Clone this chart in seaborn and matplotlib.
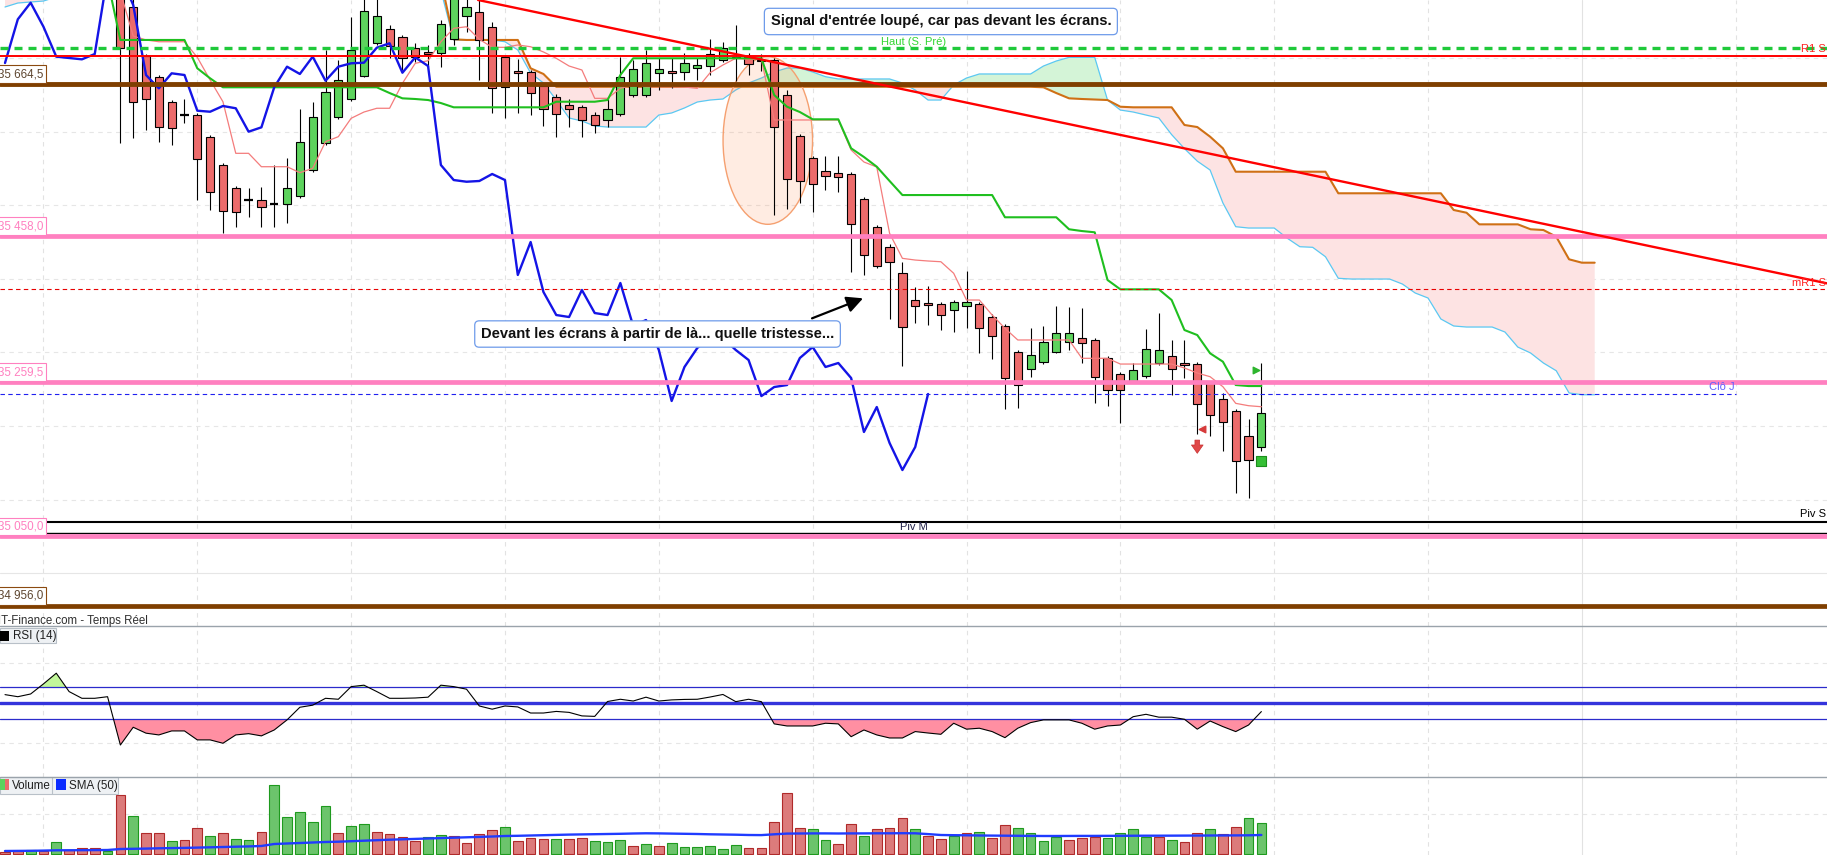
import numpy as np
import pandas as pd
import seaborn as sns
import matplotlib.pyplot as plt
from matplotlib import transforms, font_manager
from matplotlib.patches import Ellipse, Rectangle
from matplotlib.lines import Line2D

# ---------------- data ----------------
# candles, one per bar index 0..98 (bars 0-8 sit above the visible window)
opens = [35812, 35805, 35810, 35824, 35835, 35846, 35826, 35815, 35818, 35795.0,
         35769.0, 35702.8, 35673.9, 35639.9, 35622.2, 35622.2, 35592.4, 35554.3, 35523.1, 35506.8,
         35506.8, 35501.7, 35501.7, 35512.2, 35548.3, 35584.2, 35619.5, 35644.0, 35676.0, 35720.1,
         35739.1, 35728.2, 35713.3, 35707.8, 35706.5, 35725.5, 35757.2, 35763.0, 35742.6, 35701.0,
         35682.4, 35680.7, 35662.1, 35647.5, 35635.8, 35633.1, 35623.1, 35615.9, 35624.0, 35649.4,
         35649.4, 35679.3, 35682.4, 35681.1, 35686.1, 35688.8, 35697.4, 35699.7, 35701.0, 35697.4,
         35697.4, 35650.2, 35593.7, 35563.8, 35546.2, 35543.4, 35542.5, 35508.1, 35470.1, 35443.7,
         35407.6, 35370.9, 35367.2, 35365.4, 35357.3, 35362.7, 35365.4, 35348.6, 35335.6, 35300.2,
         35277.5, 35287.1, 35300.2, 35313.8, 35319.3, 35316.5, 35292.1, 35270.3, 35261.6, 35267.6,
         35285.3, 35294.8, 35285.3, 35283.9, 35258.1, 35236.4, 35220.1, 35186.1, 35171.2]
highs = [35826, 35818, 35832, 35840, 35852, 35850, 35832, 35824, 35825, 35806.0,
         35781.0, 35705.5, 35677.0, 35643.0, 35644.0, 35625.4, 35595.5, 35557.4, 35526.2, 35523.5,
         35525.2, 35554.7, 35563.8, 35630.4, 35639.9, 35711.0, 35697.4, 35756.2, 35785.7, 35785.7,
         35744.9, 35731.3, 35720.5, 35717.8, 35751.7, 35799.3, 35792.5, 35785.7, 35749.0, 35704.2,
         35698.7, 35683.8, 35664.8, 35651.2, 35644.0, 35636.2, 35626.7, 35644.0, 35701.9, 35697.4,
         35711.0, 35700.1, 35700.1, 35706.9, 35700.1, 35726.3, 35721.8, 35744.9, 35706.5, 35705.5,
         35700.1, 35656.6, 35596.8, 35567.0, 35567.0, 35567.0, 35545.2, 35511.2, 35473.2, 35447.4,
         35422.9, 35389.4, 35390.3, 35368.6, 35371.3, 35410.7, 35368.6, 35352.3, 35338.7, 35303.4,
         35332.8, 35336.0, 35363.1, 35361.4, 35360.0, 35319.7, 35295.2, 35273.5, 35285.7, 35331.5,
         35354.0, 35317.0, 35317.0, 35287.0, 35261.2, 35244.5, 35223.2, 35210.0, 35285.3]
lows = [35798, 35795, 35804, 35815, 35828, 35822, 35810, 35805, 35804, 35585.0,
        35591.0, 35602.3, 35586.4, 35581.9, 35611.4, 35507.2, 35493.6, 35462.7, 35470.9, 35484.5,
        35470.9, 35470.9, 35475.5, 35509.9, 35545.2, 35581.9, 35617.2, 35641.7, 35674.3, 35717.8,
        35699.7, 35683.8, 35694.7, 35688.3, 35688.3, 35717.8, 35735.8, 35670.2, 35625.0, 35618.2,
        35625.4, 35622.6, 35607.7, 35593.2, 35606.8, 35593.2, 35598.6, 35606.8, 35621.3, 35647.1,
        35647.1, 35656.6, 35659.3, 35670.2, 35670.2, 35677.0, 35694.7, 35668.8, 35677.0, 35682.4,
        35486.8, 35494.5, 35502.7, 35491.3, 35520.8, 35518.4, 35409.7, 35405.3, 35414.8, 35345.1,
        35281.6, 35339.6, 35337.3, 35330.5, 35328.2, 35332.8, 35298.9, 35290.7, 35222.8, 35224.1,
        35267.1, 35284.3, 35298.9, 35303.4, 35285.3, 35231.8, 35227.7, 35204.6, 35258.5, 35265.3,
        35283.0, 35241.8, 35264.9, 35188.8, 35187.2, 35166.5, 35108.7, 35101.9, 35166.5]
closes = [35805, 35810, 35824, 35835, 35846, 35826, 35815, 35818, 35808, 35713.3,
          35639.9, 35644.0, 35605.9, 35604.6, 35622.2, 35562.5, 35517.6, 35491.8, 35490.4, 35506.8,
          35497.3, 35501.7, 35523.1, 35585.6, 35619.5, 35653.5, 35669.8, 35710.6, 35763.5, 35756.8,
          35716.8, 35699.7, 35701.9, 35705.1, 35745.9, 35785.7, 35769.8, 35724.6, 35658.9, 35661.1,
          35679.7, 35652.1, 35630.4, 35624.0, 35630.4, 35615.9, 35608.7, 35631.2, 35674.7, 35684.7,
          35692.9, 35684.7, 35679.7, 35692.9, 35690.2, 35705.5, 35713.3, 35701.0, 35691.5, 35695.6,
          35605.9, 35535.3, 35533.4, 35528.9, 35540.2, 35538.8, 35474.6, 35432.4, 35417.5, 35422.9,
          35334.2, 35362.7, 35364.5, 35350.5, 35368.2, 35368.2, 35332.8, 35322.4, 35264.9, 35255.4,
          35296.2, 35313.8, 35326.0, 35326.0, 35312.5, 35266.3, 35248.6, 35248.6, 35275.8, 35304.3,
          35303.0, 35277.1, 35282.6, 35229.6, 35214.6, 35205.1, 35152.1, 35154.3, 35217.4]

# volume panel (contracts), colour flag as shown (1 = green bar)
volume = [150, 250, 350, 300, 1120, 350, 520, 520, 250, 5820,
          3720, 2050, 2050, 1250, 1320, 2520, 1720, 2050, 1420, 1320,
          2120, 6820, 3620, 4120, 3120, 4720, 2020, 2720, 2920, 2120,
          1920, 1620, 1250, 1620, 1820, 1720, 1020, 1920, 2320, 2620,
          1220, 1520, 1420, 1420, 1420, 1520, 1220, 1120, 1320, 800,
          920, 720, 1020, 650, 650, 720, 450, 850, 520, 520,
          3120, 6020, 2520, 2420, 1350, 920, 2920, 1780, 2420, 2520,
          3520, 2420, 1750, 1420, 1750, 2020, 2120, 1520, 2820, 2520,
          2020, 1250, 1620, 1350, 1550, 1620, 1550, 2020, 2420, 1680,
          1680, 1350, 1120, 2020, 2420, 1950, 2620, 3520, 3020]
vol_up = [0, 0, 1, 0, 1, 0, 0, 0, 1, 0,
          1, 0, 0, 1, 0, 0, 1, 0, 1, 1,
          0, 1, 1, 1, 1, 1, 0, 1, 1, 0,
          0, 0, 0, 1, 1, 0, 0, 0, 0, 1,
          0, 0, 0, 1, 0, 0, 1, 1, 1, 0,
          1, 0, 1, 1, 1, 1, 1, 1, 0, 0,
          0, 0, 0, 1, 1, 0, 0, 1, 0, 0,
          0, 1, 0, 0, 1, 0, 1, 0, 0, 1,
          1, 1, 1, 0, 0, 0, 1, 1, 1, 1,
          0, 1, 0, 0, 1, 0, 0, 1, 1]
vol_sma = [250, 260, 270, 290, 320, 325, 330, 340, 350, 450,
           470, 490, 520, 540, 560, 590, 620, 650, 680, 710,
           750, 950, 1000, 1050, 1100, 1150, 1180, 1230, 1280, 1330,
           1380, 1420, 1460, 1500, 1540, 1580, 1620, 1660, 1700, 1750,
           1770, 1800, 1830, 1860, 1890, 1910, 1930, 1950, 1970, 2000,
           2020, 2010, 1990, 1970, 1950, 1920, 1900, 1880, 1850, 1840,
           1920, 1990, 2000, 2010, 2010, 2000, 2010, 2010, 2020, 2020,
           2030, 2020, 1940, 1850, 1830, 1820, 1800, 1790, 1780, 1770,
           1760, 1750, 1750, 1755, 1760, 1760, 1765, 1770, 1775, 1780,
           1780, 1785, 1790, 1795, 1800, 1805, 1810, 1820, 1850]

rsi = [55.4, 54.1, 55.8, 62.1, 68.8, 57.3, 53.1, 53.1, 54.1, 23.9,
       35.0, 31.3, 30.2, 32.7, 32.7, 27.1, 27.1, 25.0, 30.2, 31.0,
       29.6, 33.3, 39.6, 47.5, 48.8, 53.1, 52.5, 60.4, 61.3, 57.3,
       53.1, 53.1, 53.3, 53.8, 61.3, 60.4, 58.8, 48.3, 46.3, 48.3,
       47.7, 43.9, 43.9, 44.9, 44.3, 42.1, 41.8, 51.1, 52.5, 51.4,
       53.8, 51.4, 52.1, 52.4, 52.5, 53.9, 55.5, 51.0, 52.5, 51.0,
       37.1, 35.8, 35.8, 35.8, 37.5, 37.1, 29.1, 33.3, 30.2, 28.3,
       28.3, 32.3, 31.4, 30.6, 37.5, 33.8, 34.4, 32.3, 28.5, 34.4,
       37.9, 39.6, 39.6, 39.6, 37.5, 33.8, 35.8, 36.4, 41.6, 43.1,
       41.3, 41.3, 40.0, 33.8, 38.9, 35.4, 32.3, 36.4, 44.8]

# ichimoku
tenkan_start = 9
tenkan = [35790.0, 35730.0, 35724.6, 35722.2, 35722.2, 35722.2, 35701.0, 35670.2, 35640.7, 35570.6,
          35570.6, 35552.4, 35552.4, 35552.4, 35544.3, 35550.2, 35586.4, 35593.2, 35618.2, 35626.7,
          35631.8, 35631.8, 35665.7, 35692.9, 35696.4, 35722.2, 35740.4, 35742.6, 35725.5, 35714.6,
          35714.6, 35717.8, 35715.4, 35708.3, 35699.7, 35689.2, 35683.8, 35645.3, 35645.3, 35658.9,
          35663.4, 35661.1, 35661.1, 35661.1, 35660.7, 35658.9, 35680.1, 35690.6, 35699.7, 35698.3,
          35698.3, 35615.9, 35615.9, 35615.9, 35615.9, 35615.9, 35615.9, 35575.1, 35558.8, 35552.0,
          35461.9, 35427.9, 35425.6, 35424.3, 35423.3, 35407.6, 35371.3, 35371.3, 35350.9, 35332.8,
          35317.0, 35317.0, 35317.0, 35317.0, 35317.0, 35292.1, 35292.1, 35292.1, 35284.3, 35284.3,
          35284.3, 35284.3, 35284.3, 35278.9, 35272.1, 35267.1, 35253.5, 35230.9, 35227.7, 35226.3]
kijun_start = 8
kijun = [35806.0, 35724.6, 35724.6, 35724.6, 35724.6, 35724.6, 35724.6, 35686.1, 35672.5, 35660.3,
         35660.3, 35660.3, 35660.3, 35660.3, 35660.3, 35660.3, 35660.3, 35660.3, 35660.3, 35660.3,
         35660.3, 35660.3, 35652.5, 35645.3, 35644.4, 35643.0, 35638.9, 35633.1, 35633.1, 35633.1,
         35633.1, 35633.1, 35633.1, 35633.1, 35633.1, 35640.7, 35640.7, 35640.7, 35640.7, 35643.0,
         35677.0, 35699.7, 35699.7, 35699.7, 35699.7, 35699.7, 35699.7, 35699.7, 35699.7, 35699.7,
         35699.7, 35699.7, 35649.8, 35633.9, 35626.7, 35616.8, 35616.8, 35616.8, 35577.4, 35565.6,
         35552.4, 35533.0, 35513.9, 35513.9, 35513.9, 35513.9, 35513.9, 35513.9, 35513.9, 35513.9,
         35483.7, 35483.7, 35483.7, 35483.7, 35483.7, 35467.4, 35465.0, 35463.3, 35398.5, 35385.8,
         35385.8, 35385.8, 35385.8, 35371.3, 35330.5, 35323.7, 35298.9, 35287.5, 35255.8, 35254.4,
         35254.4]
chikou = [35693.3, 35752.7, 35775.2, 35742.6, 35701.9, 35700.1, 35698.3, 35705.5, 35812.9, 35812.9,
          35772.1, 35677.0, 35658.9, 35679.3, 35677.0, 35628.5, 35627.1, 35634.9, 35631.8, 35600.0,
          35605.9, 35660.3, 35688.3, 35678.4, 35701.9, 35669.2, 35688.3, 35692.9, 35693.7, 35714.1,
          35720.1, 35680.1, 35701.0, 35689.2, 35554.7, 35534.3, 35532.0, 35533.0, 35542.5, 35534.3,
          35405.3, 35450.1, 35382.2, 35350.9, 35348.2, 35384.9, 35353.6, 35350.9, 35394.4, 35336.0,
          35344.1, 35303.4, 35234.1, 35280.3, 35306.1, 35321.0, 35319.7, 35303.4, 35289.8, 35240.8,
          35253.1, 35255.8, 35292.5, 35307.4, 35280.3, 35285.7, 35265.3, 35192.0, 35225.9, 35177.0,
          35140.3, 35171.6, 35243.6]
senkou_a = [35769.4, 35774.8, 35776.2, 35777.5, 35783.0, 35795.0, 35795.0, 35795.0, 35795.0, 35795.0,
            35795.0, 35795.0, 35795.0, 35795.0, 35795.0, 35795.0, 35795.0, 35795.0, 35795.0, 35795.0,
            35795.0, 35795.0, 35795.0, 35795.0, 35795.0, 35795.0, 35795.0, 35795.0, 35795.0, 35795.0,
            35795.0, 35795.0, 35795.0, 35795.0, 35792.0, 35724.6, 35724.6, 35724.6, 35724.6, 35722.2,
            35711.0, 35679.7, 35666.1, 35643.0, 35618.6, 35614.5, 35607.7, 35606.3, 35606.3, 35606.3,
            35606.3, 35622.6, 35625.4, 35632.2, 35640.3, 35643.0, 35644.4, 35656.6, 35666.1, 35672.9,
            35681.1, 35686.5, 35686.5, 35681.1, 35674.7, 35671.6, 35671.6, 35671.6, 35671.6, 35671.6,
            35666.1, 35656.6, 35643.0, 35643.0, 35663.4, 35672.9, 35678.4, 35678.4, 35678.4, 35678.4,
            35678.4, 35689.2, 35696.0, 35701.0, 35701.0, 35701.0, 35643.0, 35629.4, 35626.7, 35622.6,
            35618.6, 35596.0, 35577.0, 35560.0, 35547.9, 35503.1, 35470.9, 35469.1, 35469.1, 35469.1,
            35455.5, 35443.7, 35442.9, 35430.1, 35400.8, 35399.8, 35399.8, 35399.8, 35399.8, 35393.0,
            35380.8, 35374.0, 35345.5, 35336.0, 35334.6, 35334.6, 35334.6, 35327.8, 35307.4, 35299.3,
            35285.7, 35275.2, 35245.0, 35242.6, 35242.6]
senkou_b = [35830.0, 35830.0, 35830.0, 35830.0, 35830.0, 35830.0, 35830.0, 35830.0, 35830.0, 35830.0,
            35830.0, 35830.0, 35830.0, 35830.0, 35830.0, 35830.0, 35830.0, 35830.0, 35830.0, 35830.0,
            35830.0, 35830.0, 35830.0, 35830.0, 35830.0, 35830.0, 35830.0, 35830.0, 35830.0, 35830.0,
            35830.0, 35830.0, 35830.0, 35830.0, 35806.0, 35725.5, 35724.6, 35724.6, 35724.6, 35724.6,
            35724.6, 35686.1, 35678.4, 35661.0, 35661.0, 35661.0, 35661.0, 35661.0, 35661.0, 35661.0,
            35661.0, 35661.0, 35661.0, 35661.0, 35661.0, 35661.0, 35661.0, 35661.0, 35661.0, 35661.0,
            35661.0, 35661.0, 35661.0, 35661.0, 35661.0, 35661.0, 35661.0, 35661.0, 35661.0, 35661.0,
            35661.0, 35661.0, 35661.0, 35661.0, 35661.0, 35661.0, 35661.0, 35661.0, 35661.0, 35661.0,
            35661.0, 35660.3, 35652.5, 35645.3, 35644.4, 35643.7, 35643.0, 35633.9, 35633.1, 35633.1,
            35633.1, 35633.1, 35609.1, 35606.3, 35593.2, 35577.4, 35545.6, 35545.6, 35545.6, 35545.6,
            35545.6, 35545.6, 35545.6, 35545.6, 35516.3, 35516.3, 35516.3, 35516.3, 35516.3, 35516.3,
            35516.3, 35516.3, 35516.3, 35493.6, 35489.9, 35474.1, 35474.1, 35474.1, 35474.1, 35467.4,
            35466.4, 35457.3, 35426.6, 35422.0, 35422.0]

# horizontal levels
haut_s_pre = 35713.7
r1_s = 35703.3
lvl_664 = 35664.5
lvl_458 = 35458.0
mr1_s = 35385.9
lvl_259 = 35259.5
clo_j = 35243.2
clo_j_end = 135
piv_s = 35070.1
piv_m = 35054.6
lvl_050 = 35050.0
lvl_956 = 34956.0

# oblique resistance (two anchor points: bar index, price)
trend_pts = [(36.9, 35778.9), (142.1, 35394.0)]

# signals
buy_square = (98, 35152.5)
green_flag = (97.6, 35275.8)
red_flag = (93.4, 35195.6)
red_arrow = (93.0, 35181.0, 35163.0)

# notes
note1 = (73.0, 35749.7, "Signal d'entrée loupé, car pas devant les écrans.")
note2 = (50.9, 35325.1, "Devant les écrans à partir de là... quelle tristesse...")
arrow_from = (62.95, 35346.4)
arrow_to = (66.93, 35373.6)
ellipse_c = (59.5, 35588.0)
ellipse_w, ellipse_h = 6.98, 227.7

# ---------------- style ----------------
sns.set_theme(style="white")
plt.rcParams['font.family'] = ['Liberation Sans', 'DejaVu Sans']
names = {f.name for f in font_manager.fontManager.ttflist}
NARROW = 'Liberation Sans Narrow' if 'Liberation Sans Narrow' in names else 'Liberation Sans'

GREEN = '#5DD35D'
RED = '#EC6B6B'
PINK = '#FF80C0'
BROWN = '#7F3F00'
XLIM = (-0.39, 142.12)

fig = plt.figure(figsize=(18.27, 8.55), dpi=100)
ax = fig.add_axes([0, 229 / 855, 1, 626 / 855])
ax_rsi = fig.add_axes([0, 78 / 855, 1, 151 / 855])
ax_vol = fig.add_axes([0, 0, 1, 78 / 855])

grid_idx = np.arange(3, 136, 12)
for a in (ax, ax_rsi, ax_vol):
    for g in grid_idx:
        solid = g == 123
        a.axvline(g, color='#E2E2E2', lw=0.8, ls='-' if solid else (0, (4, 4)), zorder=0)
for p in range(35000, 35800, 100):
    ax.axhline(p, color='#E6E6E6', lw=0.8, ls='-' if p == 35000 else (0, (4, 4)), zorder=0)

# ---- ichimoku cloud ----
cx = np.arange(len(senkou_a))
sa = np.array(senkou_a)
sb = np.array(senkou_b)
ax.fill_between(cx, sa, sb, where=sa >= sb, interpolate=True, color='#D4F4D7', lw=0, zorder=1)
ax.fill_between(cx, sa, sb, where=sa < sb, interpolate=True, color='#FDE3E3', lw=0, zorder=1)
sns.lineplot(x=cx, y=sa, ax=ax, color='#5BC8F2', lw=0.9, zorder=2)
sns.lineplot(x=cx, y=sb, ax=ax, color='#CF7015', lw=1.5, zorder=2)

ax.add_patch(Ellipse(ellipse_c, ellipse_w, ellipse_h, facecolor=(1.0, 0.55, 0.3, 0.16),
                     edgecolor='#F5A070', lw=1.0, zorder=2.5))

# ---- candles ----
idx = np.arange(len(opens))
o, h, l, c = (np.array(v, dtype=float) for v in (opens, highs, lows, closes))
up, dn, fl = c > o, c < o, c == o
ax.vlines(idx, l, h, color='black', lw=0.8, zorder=4)
ax.bar(idx[up], (c - o)[up], bottom=o[up], width=0.64, color=GREEN, edgecolor='black', lw=0.8, zorder=5)
ax.bar(idx[dn], (o - c)[dn], bottom=c[dn], width=0.64, color=RED, edgecolor='black', lw=0.8, zorder=5)
ax.hlines(c[fl], idx[fl] - 0.32, idx[fl] + 0.32, color='black', lw=1.6, zorder=5)

# ---- tenkan / kijun / chikou ----
sns.lineplot(x=np.arange(tenkan_start, tenkan_start + len(tenkan)), y=tenkan, ax=ax,
             color='#F47C7C', lw=0.9, zorder=6)
sns.lineplot(x=np.arange(kijun_start, kijun_start + len(kijun)), y=kijun, ax=ax,
             color='#1FBF1F', lw=1.5, zorder=6)
sns.lineplot(x=np.arange(len(chikou)), y=chikou, ax=ax, color='#1414E6', lw=1.7, zorder=6)

# ---- levels ----
ax.axhline(haut_s_pre, color='#1FC93A', lw=2.4, ls=(0, (2.4, 1.8)), zorder=7)
ax.axhline(r1_s, color='#FF0000', lw=1.4, zorder=7)
ax.axhline(lvl_664, color=BROWN, lw=3.5, zorder=7)
ax.axhline(lvl_458, color=PINK, lw=3.4, zorder=7)
ax.axhline(mr1_s, color='#E80000', lw=0.8, ls=(0, (4, 3)), zorder=7)
ax.axhline(lvl_259, color=PINK, lw=3.4, zorder=7)
ax.hlines(clo_j, XLIM[0], clo_j_end, color='#2020F0', lw=0.8, linestyles=[(0, (4, 3))], zorder=7)
ax.axhline(piv_s, color='black', lw=1.5, zorder=7)
ax.axhline(piv_m, color='black', lw=1.0, zorder=7)
ax.axhline(lvl_050, color=PINK, lw=3.4, zorder=7)
ax.axhline(lvl_956, color=BROWN, lw=3.4, zorder=7)
ax.axline(trend_pts[0], trend_pts[1], color='#FF0000', lw=1.7, zorder=8)

# ---- level labels ----
left_tf = transforms.blended_transform_factory(ax.transAxes, ax.transData)
for val, txt, tcol, ecol in [(lvl_664, '35 664,5', '#5E4630', '#8B4A10'),
                             (lvl_458, '35 458,0', PINK, PINK),
                             (lvl_259, '35 259,5', PINK, PINK),
                             (lvl_050, '35 050,0', PINK, PINK),
                             (lvl_956, '34 956,0', '#5E4630', '#8B4A10')]:
    ax.annotate(txt, xy=(0, val), xycoords=left_tf, xytext=(31.0, 7.2), textcoords='offset points',
                ha='right', va='center', fontsize=8.4, family=NARROW, color=tcol,
                bbox=dict(boxstyle='square,pad=0.25', fc='white', ec=ecol, lw=0.8),
                zorder=10, annotation_clip=False)

for val, txt, col, xfrac, dx, dy, ha in [(haut_s_pre, 'Haut (S. Pré)', '#33D633', 0.5, 0, 4.5, 'center'),
                                         (piv_m, 'Piv M', '#202048', 0.5, 0, 4.6, 'center'),
                                         (r1_s, 'R1 S', '#FF2020', 1.0, -0.8, 4.6, 'right'),
                                         (mr1_s, 'mR1 S', '#FF2020', 1.0, -0.8, 4.8, 'right'),
                                         (piv_s, 'Piv S', 'black', 1.0, -0.8, 5.8, 'right'),
                                         (clo_j, 'Clô J', '#6060FF', 1.0, -85.0, 5.3, 'left')]:
    ax.annotate(txt, xy=(xfrac, val), xycoords=left_tf, xytext=(dx, dy), textcoords='offset points',
                ha=ha, va='center', fontsize=8.0, family=NARROW, color=col, zorder=10,
                annotation_clip=False)

fig.text(-0.0012, (855 - 620.5) / 855, 'IT-Finance.com - Temps Réel', fontsize=8.3, family=NARROW,
         color='#303030', va='center', ha='left')

# ---- notes ----
box = dict(boxstyle='round,pad=0.42,rounding_size=0.3', fc='white', ec='#6E9BEA', lw=0.9)
for nx, ny, txt in (note1, note2):
    ax.text(nx, ny, txt, ha='center', va='center', fontsize=10.6, fontweight='bold',
            color='#111111', bbox=box, zorder=12)
ax.annotate('', xy=arrow_to, xytext=arrow_from,
            arrowprops=dict(arrowstyle='-|>,head_length=0.7,head_width=0.35', color='black',
                            lw=1.6, mutation_scale=14, shrinkA=0, shrinkB=0), zorder=12)

# ---- signals ----
ax.scatter([buy_square[0]], [buy_square[1]], marker='s', s=46, c='#35BF35', edgecolors='#1E8E1E',
           linewidths=0.8, zorder=9)
ax.scatter([green_flag[0]], [green_flag[1]], marker='>', s=22, c='#2DB52D', zorder=9)
ax.scatter([red_flag[0]], [red_flag[1]], marker='<', s=22, c='#D63A3A', zorder=9)
ax.annotate('', xy=(red_arrow[0], red_arrow[2]), xytext=(red_arrow[0], red_arrow[1]),
            arrowprops=dict(arrowstyle='simple,head_length=0.5,head_width=0.7,tail_width=0.28',
                            fc='#E04848', ec='#C83030', lw=0.5, mutation_scale=12,
                            shrinkA=0, shrinkB=0), zorder=9)

ax.set_xlim(*XLIM)
ax.set_ylim(34928.4, 35778.9)
ax.set_axis_off()

# ---------------- RSI ----------------
r = np.array(rsi)
ax_rsi.fill_between(idx, r, 40, where=r < 40, interpolate=True, color='#FF8FA2', lw=0, zorder=1)
ax_rsi.fill_between(idx, r, 60, where=r > 60, interpolate=True, color='#C2F79A', lw=0, zorder=1)
for lv in (25, 75):
    ax_rsi.axhline(lv, color='#E6E6E6', lw=0.8, ls=(0, (4, 4)), zorder=0)
ax_rsi.axhline(60, color='#2B2BCC', lw=0.9, zorder=2)
ax_rsi.axhline(40, color='#2B2BCC', lw=0.9, zorder=2)
ax_rsi.axhline(50, color='#3434DC', lw=2.4, zorder=2)
sns.lineplot(x=idx, y=r, ax=ax_rsi, color='black', lw=0.8, zorder=3)
ax_rsi.set_xlim(*XLIM)
ax_rsi.set_ylim(3.9, 98.3)
ax_rsi.set_axis_off()
ax_rsi.add_patch(Rectangle((0, 0.889), 0.0305, 0.096, transform=ax_rsi.transAxes, fc='#EEF1F4',
                           ec='#B8C0C8', lw=0.8, zorder=5, clip_on=False))
ax_rsi.add_patch(Rectangle((0, 0.9), 0.0048, 0.066, transform=ax_rsi.transAxes, fc='black',
                           lw=0, zorder=6))
ax_rsi.text(0.0071, 0.937, 'RSI (14)', transform=ax_rsi.transAxes, fontsize=8.4, family=NARROW,
            va='center', ha='left', color='#202020', zorder=7)

# ---------------- volume ----------------
vol_df = pd.DataFrame({'bar': idx, 'volume': volume,
                       'side': ['hausse' if u else 'baisse' for u in vol_up]})
ax_vol.axhline(4000, color='#E6E6E6', lw=0.8, ls=(0, (4, 4)), zorder=0)
sns.barplot(data=vol_df, x='bar', y='volume', hue='side', palette={'hausse': GREEN, 'baisse': RED},
            native_scale=True, dodge=False, width=0.76, errorbar=None, legend=False, ax=ax_vol,
            zorder=3)
for p in ax_vol.patches:
    fc = p.get_facecolor()
    p.set_edgecolor('#1E9A1E' if fc[1] > fc[0] else '#B02A2A')
    p.set_linewidth(0.8)
sns.lineplot(x=idx, y=vol_sma, ax=ax_vol, color='#1F3BFF', lw=1.7, zorder=4)
ax_vol.set_xlim(*XLIM)
ax_vol.set_ylim(-150, 7650)
ax_vol.set_axis_off()

ax_vol.add_patch(Rectangle((0, 0.782), 0.0646, 0.214, transform=ax_vol.transAxes, fc='#EEF1F4',
                           ec='#B8C0C8', lw=0.8, zorder=5, clip_on=False))
ax_vol.add_line(Line2D([0.0285, 0.0285], [0.782, 0.996], transform=ax_vol.transAxes, color='#B8C0C8',
                       lw=0.8, zorder=6))
ax_vol.add_patch(Rectangle((0, 0.83), 0.0025, 0.15, transform=ax_vol.transAxes, fc=GREEN, lw=0, zorder=6))
ax_vol.add_patch(Rectangle((0.0025, 0.83), 0.0025, 0.15, transform=ax_vol.transAxes, fc=RED, lw=0, zorder=6))
ax_vol.text(0.0066, 0.89, 'Volume', transform=ax_vol.transAxes, fontsize=8.4, family=NARROW,
            va='center', ha='left', color='#202020', zorder=7)
ax_vol.add_patch(Rectangle((0.0307, 0.83), 0.0055, 0.15, transform=ax_vol.transAxes, fc='#0A2BFF',
                           lw=0, zorder=6))
ax_vol.text(0.0375, 0.89, 'SMA (50)', transform=ax_vol.transAxes, fontsize=8.4, family=NARROW,
            va='center', ha='left', color='#202020', zorder=7)

# panel separators
for yf in (229 / 855, 78 / 855):
    fig.add_artist(Line2D([0, 1], [yf, yf], transform=fig.transFigure, color='#9AA3AB', lw=1.0))

fig.savefig('out.png', dpi=100, facecolor='white')
